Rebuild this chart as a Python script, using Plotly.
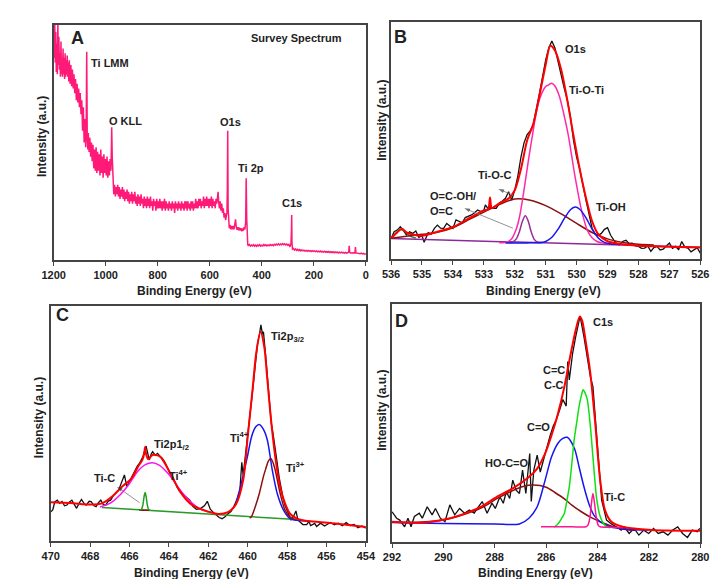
import plotly.graph_objects as go

# ---------------- Panel A: survey spectrum ----------------
survey_be = [1200,1198,1196,1194,1192,1190,1188,1186,1184,1182,1180,1178,1176,1174,1172,1170,1168,1166,1164,1162,
             1160,1158,1156,1154,1152,1150,1148,1146,1144,1142,1140,1137,1134,1131,1128,1125,1122,1119,1116,1113,
             1110,1107,1104,1101,1098,1095,1092,1089,1086,1083,1080,1077,1075,1073,1071,1069,1067,1064,1061,1058,
             1055,1052,1049,1046,1043,1040,1037,1034,1031,1028,1025,1022,1019,1016,1013,1010,1007,1004,1001,998,
             995,992,989,986,983,980,978,977,975,973,971,969,966,963,960,957,954,951,948,945,
             942,939,936,933,930,927,924,921,918,915,912,909,906,903,900,897,894,891,888,885,
             882,879,876,873,870,867,864,861,858,855,852,849,846,843,840,837,834,831,828,825,
             822,819,816,813,810,807,804,801,798,795,792,789,786,783,780,777,774,771,768,765,
             762,759,756,753,750,747,744,741,738,735,732,729,726,723,720,717,714,711,708,705,
             702,699,696,693,690,687,684,681,678,675,672,669,666,663,660,657,654,651,648,645,
             642,639,636,633,630,627,624,621,618,615,612,609,606,603,600,597,594,591,588,585,
             582,579,576,573,570,568,566,563,560,557,554,551,548,545,542,539,536,534,532.5,531,
             529.5,528,525,522,519,516,513,510,507,504,501,498,495,492,489,486,483,480,477,474,
             471,468,465,462,460,458,456,454,452,448,444,440,436,432,428,424,420,416,412,408,
             404,400,396,392,388,384,380,376,372,368,364,360,356,352,348,344,340,336,332,328,
             324,320,316,312,308,304,300,296,292,288,286,285,284,282,278,274,270,266,262,258,
             254,250,246,242,238,234,230,226,222,218,214,210,206,202,198,194,190,186,182,178,
             174,170,166,162,158,154,150,146,142,138,134,130,126,122,118,114,110,106,102,98,
             94,90,86,82,78,74,70,66,64,62,58,54,50,46,42,40,38,34,30,26,
             22,18,14,10,6,2,0]
survey_int = [96,86,103,84,97,80,92,79,101,83,95,81,88,78,93,79,86,78,90,79,
              86,77,88,78,85,79,87,78,84,76,85,75,83,74,81,73,79,71,77,68,
              75,67,73,65,71,62,68,55,65,50,60,48,57,88.6,52,47,54,46,52,44,
              50,42,49,39,47,38,48,37,46,38,45,36,47,37,44,35,45,37,43,36,
              44,35,42,36,43,38,48,56.5,44,35,31,28,32,27,31,28,32,27,31,26,
              30,27,31,26,30,25,29,26,30,25,29,24,28,25,29,24,28,25,29,24,
              27,23,28,24,27,23,28,24,26,22,27,23,26,22,27,23,26,22,27,23,
              25,21,26,23,25,21,26,22,25,22,26,22,25,21,25,22,26,21,25,22,
              24,21,25,22,24,21,25,22,24,20,25,22,24,21,25,22,24,21,25,22,
              24,21,25,22,25,21,25,22,24,21,25,22,25,21,24,22,26,22,25,22,
              26,23,26,22,25,23,27,22,26,23,27,23,26,22,26,23,27,22,26,23,
              25,22,26,24,27,29,25,22,25,21,24,20,22,18,20,17,19,20,30,55,
              22,15,13.5,15,13,14.5,13,14.5,13,15,17.3,14,12.8,14,12.6,13.8,12.5,13.5,12.2,13.4,
              12.5,14,13,16,34.8,18,8,6.5,6.2,6.6,5.9,6.4,6.0,6.5,5.9,6.3,5.8,6.4,6.0,6.5,
              5.9,6.3,6.0,6.6,6.1,6.5,6.0,6.4,6.1,6.6,6.2,6.5,6.1,6.7,6.3,6.8,6.4,6.9,6.4,6.8,
              6.5,7.0,6.5,6.9,6.4,6.8,6.3,6.6,5.6,6.8,12,19.1,7.5,4.6,4.9,4.2,4.7,4.1,4.5,4.0,
              4.4,3.9,4.3,3.9,4.2,3.8,4.1,3.7,4.1,3.8,4.0,3.6,4.0,3.7,3.9,3.6,3.9,3.5,3.8,3.5,
              3.8,3.4,3.7,3.4,3.7,3.3,3.6,3.3,3.6,3.2,3.5,3.2,3.5,3.1,3.4,3.1,3.4,3.0,3.3,3.0,
              3.3,3.0,3.2,2.9,3.2,2.9,3.2,3.3,6.0,3.2,3.0,3.1,2.9,3.1,3.0,5.5,3.0,2.9,2.8,3.0,
              2.7,2.9,2.6,2.8,2.5,2.6,2.4]

# ---------------- Panel B: O1s ----------------
o1s_be = [536.0,535.9,535.8,535.7,535.6,535.5,535.4,535.3,535.2,535.1,535.0,534.93,
          534.8,534.7,534.6,534.5,534.4,534.3,534.2,534.1,534.0,
          533.9,533.8,533.7,533.6,533.5,533.4,533.3,533.2,533.1,533.0,532.95,532.85,
          532.8,532.7,532.6,532.5,532.4,532.3,532.2,532.1,532.0,
          531.9,531.8,531.7,531.6,531.5,531.4,531.3,531.2,531.1,531.0,
          530.9,530.8,530.7,530.6,530.5,530.4,530.3,530.2,530.1,530.0,
          529.9,529.8,529.7,529.6,529.5,529.4,529.3,529.2,529.1,529.0,
          528.9,528.8,528.7,528.6,528.5,528.4,528.3,528.2,528.1,528.0,
          527.9,527.8,527.7,527.6,527.5,527.4,527.3,527.2,527.1,527.0,
          526.9,526.8,526.7,526.6,526.5,526.4,526.3,526.2,526.1,526.0]
o1s_raw = [8.5,11.5,12.2,13.6,12.0,10.1,11.5,10.8,11.8,9.1,9.8,7.1,
           11.1,10.5,12.9,14.3,13.0,12.9,15.0,14.0,12.9,
           16.5,15.8,15.3,17.5,17.9,18.6,19.5,20.7,20.0,20.5,22.8,21.0,
           22.1,21.4,21.4,23.5,24.5,25.6,28.4,24.9,29.1,
           35,43,49,52.5,54,57,63,70,77,84,
           89,92,89,83,78,72,67,60,50,43,
           38,31,25,19,13,10.5,10,10.8,12.5,13.2,
           10,8.1,6.3,6.0,7.5,7.9,6.5,6.7,5.5,5.3,
           4.5,4.6,5.5,3.2,4.8,5.3,3.8,4.2,5.5,6.7,
           4.5,5.3,4.0,7.4,5.0,4.6,3.0,3.9,4.8,2.5]
o1s_fit_be = [536.0,535.8,535.65,535.5,535.3,535.0,534.5,534.0,533.5,533.0,532.86,532.8,532.74,
              532.5,532.2,532.0,531.8,531.6,531.4,531.2,531.0,530.85,530.7,530.5,530.3,530.1,
              529.9,529.7,529.5,529.3,529.0,528.5,528.0,527.0,526.0]
o1s_fit = [8.8,11.2,12.8,11.2,10.3,9.8,11.5,13.5,17.0,20.5,21.0,26.0,21.5,
           23.5,25.5,29.0,38.0,50.0,57.0,69.0,82.0,90.0,88.0,80.0,67.0,52.0,
           38.0,26.0,16.0,10.5,7.5,6.2,5.6,5.2,4.8]
o1s_bg_be = [536.0, 526.0]
o1s_bg = [8.6, 5.0]
o1s_hump_be = [536.0,535.85,535.7,535.55,535.4,535.2]
o1s_hump = [8.8,10.8,12.4,11.6,9.8,8.9]
o1s_ococ_be = [536.0,535.5,535.0,534.5,534.0,533.5,533.0,532.5,532.0,531.5,531.0,530.5,530.0,529.5,529.0,528.5,528.0,527.5]
o1s_ococ = [8.8,9.6,10.4,11.3,13.2,16.5,19.8,23.0,25.3,24.8,22.5,19.0,15.0,11.2,8.5,7.0,6.2,5.9]
o1s_tioti_be = [532.5,532.27,532.1,531.96,531.85,531.75,531.65,531.54,531.43,531.33,
                531.23,531.13,531.0,530.9,530.8,530.7,530.55,530.42,530.28,530.17,
                530.07,529.97,529.87,529.76,529.66,529.5,529.34,529.15,529.0]
o1s_tioti = [6.9,7.0,8.5,12.3,17.5,25.0,33.5,43.2,52,60,
             66,69.8,72.8,73.5,74.2,73,68.4,61.5,53,44.5,
             36.2,29,22.2,16.5,12.3,9.0,7.4,6.7,6.5]
o1s_tioc_be = [532.2,532.05,531.95,531.85,531.75,531.66,531.57,531.47,531.37,531.27,531.1]
o1s_tioc = [7.0,7.3,8.5,11.5,16.0,18.2,16.2,11.5,8.3,7.2,7.0]
o1s_tioh_be = [532.3,531.6,531.2,531.0,530.8,530.6,530.4,530.2,530.05,529.9,529.7,529.5,529.3,529.1,528.9,528.6]
o1s_tioh = [6.8,6.8,6.9,7.4,9.2,12.6,17.0,20.8,21.9,21.0,17.5,12.6,8.9,7.0,6.4,6.1]

# ---------------- Panel C: Ti 2p ----------------
ti2p_be = [470.0,469.9,469.8,469.67,469.55,469.43,469.3,469.18,469.05,468.93,
           468.8,468.69,468.55,468.44,468.3,468.2,468.05,467.95,467.8,467.7,
           467.58,467.46,467.33,467.21,467.08,466.96,466.8,466.65,466.55,466.45,
           466.39,466.26,466.14,465.98,465.85,465.73,465.6,465.49,465.32,465.16,
           465.0,464.9,464.83,464.7,464.58,464.45,464.34,464.2,464.09,463.95,
           463.85,463.7,463.6,463.45,463.27,463.1,462.94,462.78,462.6,462.4,
           462.2,462.05,461.9,461.75,461.6,461.45,461.3,461.15,461.0,460.85,
           460.7,460.55,460.4,460.3,460.23,460.1,460.0,459.9,459.8,459.7,
           459.6,459.5,459.4,459.33,459.25,459.2,459.1,459.0,458.9,458.8,
           458.7,458.6,458.5,458.4,458.3,458.2,458.1,458.0,457.9,457.8,
           457.7,457.55,457.45,457.3,457.2,457.0,456.9,456.8,456.6,456.5,
           456.3,456.1,456.0,455.8,455.6,455.4,455.2,455.0,454.8,454.6,
           454.4,454.2,454.0]
ti2p_raw = [12.4,13.2,16.6,17.4,16.0,16.8,15.0,15.3,16.6,17.4,
            15.5,13.9,16.2,17.7,15.8,15.3,16.9,16.8,15.0,14.6,
            16.3,17.4,15.5,15.3,17.0,17.4,19.6,21.0,21.7,24.0,
            25.2,28.1,23.1,25.9,28.0,30.2,32.0,33.1,35.9,40.4,
            34.5,37.0,38.0,36.5,37.3,36.0,35.2,33.5,31.6,29.0,
            28.1,25.0,23.1,21.0,19.6,18.5,17.4,14.6,13.5,13.8,
            15.0,16.9,13.5,12.2,11.0,10.0,9.5,10.3,11.6,12.5,
            14.8,17.5,21.0,33.5,28.0,37.0,45.0,52.0,60.0,68.0,
            77.0,84.0,88.0,92.0,88.0,89.0,80.0,70.0,62.0,50.0,
            45.0,38.0,33.0,27.0,22.0,18.0,15.0,13.0,11.0,9.0,
            10.0,12.8,9.0,8.0,7.0,7.0,8.3,6.6,7.5,6.2,
            7.6,6.4,7.0,7.9,6.9,7.6,6.5,7.8,6.6,7.0,
            5.6,6.4,5.5]
ti2p_fit_be = [470.0,469.0,468.0,467.4,466.9,466.4,465.9,465.57,465.35,465.26,465.21,465.16,465.05,
               464.83,464.45,463.93,463.43,462.94,462.5,462.0,461.5,461.0,460.6,460.23,460.0,
               459.74,459.57,459.35,459.16,459.0,458.83,458.6,458.35,458.1,457.85,457.5,457.2,455.55,454.0]
ti2p_fit = [16.5,16.2,15.5,16.0,18.8,23.0,26.7,31.6,34.5,37.0,40.0,37.0,34.8,
            36.6,35.9,28.8,21.0,16.1,14.0,12.5,11.5,12.3,15.5,25.9,44.3,
            65.6,79.8,89.0,82.7,68.5,52.8,35.8,23.0,15.9,11.6,9.5,8.8,7.4,6.0]
ti2p_bg_be = [467.4, 457.3]
ti2p_bg = [14.3, 9.0]
ti2p_half_be = [467.5,467.0,466.5,466.0,465.6,465.2,464.85,464.5,464.0,463.5,463.0,462.5,462.0]
ti2p_half = [14.5,16.0,19.5,24.5,29.5,32.5,33.3,32.3,28.3,22.5,17.5,14.0,12.3]
ti2p_tic_be = [465.5,465.4,465.32,465.26,465.21,465.16,465.1,465.03,464.95]
ti2p_tic = [13.2,13.4,15.5,19.0,20.6,19.0,15.5,13.4,13.2]
ti2p_ticbase_be = [465.5, 465.0]
ti2p_ticbase = [13.1, 13.1]
ti2p_ti4_be = [460.6,460.4,460.2,460.0,459.8,459.6,459.41,459.2,459.0,458.75,458.5,458.18,457.85,457.5,457.2,456.8]
ti2p_ti4 = [16.0,22.0,29.0,36.5,44.5,48.5,49.6,47.5,42.9,30.1,20.2,13.1,9.5,8.8,8.6,8.3]
ti2p_ti3_be = [459.9,459.82,459.6,459.41,459.2,459.08,458.95,458.83,458.72,458.6,458.35,458.1,457.85,457.6]
ti2p_ti3 = [9.8,10.2,15.0,20.2,27.5,30.8,34.0,35.1,33.5,30.1,20.2,13.1,10.2,9.1]

# ---------------- Panel D: C1s ----------------
c1s_be = [292.0,291.82,291.7,291.51,291.38,291.26,291.13,290.94,290.82,290.63,
          290.44,290.31,290.12,289.94,289.75,289.56,289.37,289.18,288.99,288.8,
          288.68,288.49,288.3,288.11,287.98,287.8,287.67,287.55,287.42,287.3,
          287.17,287.04,286.92,286.79,286.64,286.58,286.48,286.35,286.23,286.1,
          285.98,285.85,285.72,285.6,285.47,285.35,285.22,285.16,285.1,284.97,
          284.85,284.68,284.53,284.4,284.28,284.18,284.09,283.96,283.84,283.65,
          283.46,283.27,283.08,282.96,282.77,282.58,282.39,282.2,282.01,281.82,
          281.64,281.45,281.26,281.07,280.88,280.69,280.5,280.31,280.12,280.02]
c1s_raw = [12.7,10.0,9.2,6.4,10.0,6.4,10.7,12.1,10.0,14.8,
           11.4,14.1,10.0,8.5,15.6,11.4,14.1,12.1,13.4,12.1,
           14.1,17.0,12.1,16.3,14.1,19.0,16.3,21.1,18.3,26.0,
           21.8,20.4,30.2,20.4,37.2,17.0,30.2,36.5,29.4,34.8,
           40.4,44.6,48.8,51.5,55.7,59.9,57.1,75.8,68.1,79.3,
           86.3,94.9,86.3,77.9,69.5,65.3,52.7,34.5,17.6,9.2,
           7.6,6.4,5.0,6.4,3.6,5.7,2.9,5.0,3.6,5.7,
           3.6,4.3,2.9,5.0,6.4,3.6,1.9,5.0,4.3,5.7]
c1s_fit_be = [292.0,290.82,290.06,289.31,288.55,287.92,287.3,286.67,286.35,286.04,285.79,285.54,285.29,
              285.04,284.85,284.69,284.6,284.47,284.28,284.09,283.9,283.71,283.46,283.02,281.89,280.0]
c1s_fit = [8.5,8.1,9.2,11.4,14.8,19.0,22.5,27.3,30.8,37.2,44.9,54.0,65.3,
           79.3,89.1,94.7,93.0,84.9,70.9,49.9,26.2,13.4,8.5,6.4,5.0,4.7]
c1s_cooh_be = [292.0,291.0,290.0,289.3,288.5,287.9,287.3,286.9,286.5,286.0,285.66,285.3,285.0,284.6,284.2,283.9,283.4,282.9,282.5]
c1s_cooh = [8.3,8.3,9.2,11.2,14.5,18.3,21.6,23.3,23.9,23.0,20.8,18.2,15.5,12.5,10.0,8.5,6.5,5.3,4.9]
c1s_co_be = [292.0,290.0,288.0,287.04,286.67,286.35,286.04,285.79,285.54,285.35,285.18,284.9,284.72,284.53,284.34,284.15,283.9,283.52,283.14,282.77,282.0]
c1s_co = [8.2,7.8,7.6,7.6,10.0,14.8,26.0,35.8,41.5,43.5,44.0,39.3,31.6,23.2,16.2,11.4,8.5,6.4,5.7,5.3,5.0]
c1s_cc_be = [285.7,285.55,285.42,285.29,285.2,285.1,285.0,284.91,284.8,284.72,284.63,284.56,284.48,284.4,284.28,284.15,284.03,283.9,283.78,283.65,283.5]
c1s_cc = [6.3,7.5,9.5,12.1,17.0,23.2,33.0,42.9,51.0,56.9,61.5,64.0,62.5,59.9,48.7,31.9,17.8,10.8,8.0,6.5,6.0]
c1s_tic_be = [286.2,285.0,284.45,284.38,284.3,284.24,284.18,284.12,284.05,283.97,283.9,283.5,283.0]
c1s_tic = [6.4,6.4,6.4,7.0,10.0,16.0,20.4,16.5,10.5,7.0,6.4,6.2,6.0]

series_pairs = [(survey_be, survey_int), (o1s_be, o1s_raw), (o1s_fit_be, o1s_fit), (o1s_ococ_be, o1s_ococ),
                (o1s_tioti_be, o1s_tioti), (o1s_tioc_be, o1s_tioc), (o1s_tioh_be, o1s_tioh), (o1s_hump_be, o1s_hump),
                (ti2p_be, ti2p_raw), (ti2p_fit_be, ti2p_fit), (ti2p_half_be, ti2p_half), (ti2p_tic_be, ti2p_tic),
                (ti2p_ti4_be, ti2p_ti4), (ti2p_ti3_be, ti2p_ti3), (c1s_be, c1s_raw), (c1s_fit_be, c1s_fit),
                (c1s_cooh_be, c1s_cooh), (c1s_co_be, c1s_co), (c1s_cc_be, c1s_cc), (c1s_tic_be, c1s_tic)]
for xs, ys in series_pairs:
    assert len(xs) == len(ys), (len(xs), len(ys), xs[0])

W, H = 720, 579
FONT = "Liberation Sans, Arial, sans-serif"
INK = "#222222"
FRAME = "#444444"

fig = go.Figure()


def line(xs, ys, ax, color, width=1.5, smooth=False):
    fig.add_trace(go.Scatter(
        x=xs, y=ys, mode="lines", xaxis="x" + ax, yaxis="y" + ax,
        line=dict(color=color, width=width, shape="spline" if smooth else "linear",
                  smoothing=0.8 if smooth else None),
        hoverinfo="skip", showlegend=False))


def pointer(ax, x0, y0, x1, y1):
    # thin leader from a peak (x0, y0) to its label, arrowhead at the label end
    fig.add_trace(go.Scatter(
        x=[x0, x1], y=[y0, y1], mode="lines+markers", xaxis="x" + ax, yaxis="y" + ax,
        line=dict(color="#777777", width=0.8),
        marker=dict(symbol="arrow", size=[0, 6], angleref="previous", color="#333333",
                    line=dict(width=0)),
        hoverinfo="skip", showlegend=False))


# Panel A
line(survey_be, survey_int, "", "#FF1A78", 1.5)

# Panel B
line(o1s_be, o1s_raw, "2", "#111111", 1.3)
line(o1s_bg_be, o1s_bg, "2", "#8B2A9B", 1.5)
line(o1s_hump_be, o1s_hump, "2", "#2E7D32", 1.5, True)
line(o1s_ococ_be, o1s_ococ, "2", "#8B1010", 1.5, True)
line(o1s_tioti_be, o1s_tioti, "2", "#FF2AA8", 1.5, True)
line(o1s_tioc_be, o1s_tioc, "2", "#9A2F9A", 1.5, True)
line(o1s_tioh_be, o1s_tioh, "2", "#1515F0", 1.5, True)
line(o1s_fit_be, o1s_fit, "2", "#FF0000", 2.0, True)
pointer("2", 532.06, 27.0, 532.53, 29.5)
pointer("2", 532.06, 13.0, 533.63, 21.4)

# Panel C
line(ti2p_be, ti2p_raw, "3", "#111111", 1.3)
line(ti2p_bg_be, ti2p_bg, "3", "#2A9A2A", 1.5)
line(ti2p_half_be, ti2p_half, "3", "#FF10F0", 1.5, True)
line(ti2p_ticbase_be, ti2p_ticbase, "3", "#8B1010", 1.5)
line(ti2p_tic_be, ti2p_tic, "3", "#1FA01F", 1.5, True)
line(ti2p_ti4_be, ti2p_ti4, "3", "#1515F0", 1.5, True)
line(ti2p_ti3_be, ti2p_ti3, "3", "#8B1010", 1.5, True)
line(ti2p_fit_be, ti2p_fit, "3", "#FF0000", 2.0, True)
pointer("3", 465.49, 16.3, 466.64, 23.1)

# Panel D
line(c1s_be, c1s_raw, "4", "#111111", 1.3)
line(c1s_cooh_be, c1s_cooh, "4", "#8B1010", 1.5, True)
line(c1s_co_be, c1s_co, "4", "#1515F0", 1.5, True)
line(c1s_cc_be, c1s_cc, "4", "#10E010", 1.5, True)
line(c1s_tic_be, c1s_tic, "4", "#FF1493", 1.5, True)
line(c1s_fit_be, c1s_fit, "4", "#FF0000", 2.0, True)


def px_dom(a, b, total, flip=False):
    if flip:
        return [1 - b / total, 1 - a / total]
    return [a / total, b / total]


panels = {
    "": dict(x=(43, 365), y=(25, 260), rng=[1200, 0], ticks=[1200, 1000, 800, 600, 400, 200, 0]),
    "2": dict(x=(391, 710), y=(22, 259), rng=[536, 526], ticks=list(range(536, 525, -1))),
    "3": dict(x=(40, 365), y=(306, 541), rng=[470, 454], ticks=list(range(470, 453, -2))),
    "4": dict(x=(392, 710), y=(304, 542), rng=[292, 280], ticks=list(range(292, 279, -2))),
}

tickfont = dict(family=FONT, size=11, color=INK, weight="bold")
for key, p in panels.items():
    fig.update_layout(**{
        "xaxis" + key: dict(domain=px_dom(*p["x"], W), range=p["rng"], anchor="y" + key,
                            tickmode="array", tickvals=p["ticks"], ticktext=[str(t) for t in p["ticks"]],
                            ticks="outside", ticklen=4, tickwidth=1, tickcolor=FRAME, tickfont=tickfont,
                            showline=True, mirror=True, linecolor=FRAME, linewidth=1.5,
                            showgrid=False, zeroline=False),
        "yaxis" + key: dict(domain=px_dom(*p["y"], H, flip=True), range=[0, 100], anchor="x" + key,
                            showticklabels=False, ticks="", showline=True, mirror=True,
                            linecolor=FRAME, linewidth=1.5, showgrid=False, zeroline=False),
    })

ann = []


def label(ax, x, y, text, size=11, xanchor="center"):
    ann.append(dict(xref="x" + ax, yref="y" + ax, x=x, y=y, text=text, showarrow=False,
                    xanchor=xanchor, yanchor="middle",
                    font=dict(family=FONT, size=size, color=INK, weight="bold")))


def paper_text(px, py, text, angle=0, size=12):
    ann.append(dict(xref="paper", yref="paper", x=px / W, y=1 - py / H, text=text, showarrow=False,
                    textangle=angle, xanchor="center", yanchor="middle",
                    font=dict(family=FONT, size=size, color=INK, weight="bold")))


# Panel A labels
label("", 1110, 94.5, "A", 18)
label("", 267, 94.5, "Survey Spectrum")
label("", 985, 84, "Ti LMM")
label("", 925, 59.3, "O KLL")
label("", 521, 58.6, "O1s")
label("", 441, 39.3, "Ti 2p")
label("", 283, 24.1, "C1s")

# Panel B labels
label("2", 535.69, 93.8, "B", 18)
label("2", 530.05, 88.5, "O1s")
label("2", 529.68, 71.3, "Ti-O-Ti")
label("2", 532.66, 35.4, "Ti-O-C")
label("2", 534.8, 26.6, "O=C-OH/", xanchor="left")
label("2", 534.8, 20.4, "O=C", xanchor="left")
label("2", 528.89, 22.1, "Ti-OH")

# Panel C labels
label("3", 469.42, 96.2, "C", 18)
label("3", 458.92, 86.9, "Ti2p<sub>3/2</sub>", xanchor="left")
label("3", 460.42, 44.4, "Ti<sup>4+</sup>")
label("3", 458.18, 31.6, "Ti<sup>3+</sup>", xanchor="left")
label("3", 464.88, 40.9, "Ti2p1<sub>/2</sub>", xanchor="left")
label("3", 464.09, 28.1, "Ti<sup>4+</sup>", xanchor="left")
label("3", 467.29, 26.7, "Ti-C")

# Panel D labels
label("4", 291.63, 93.0, "D", 18)
label("4", 283.8, 92.3, "C1s")
label("4", 285.69, 72.3, "C=C")
label("4", 285.69, 66.0, "C-C")
label("4", 286.31, 48.4, "C=O")
label("4", 287.52, 33.1, "HO-C=O")
label("4", 283.35, 19.0, "Ti-C")

# Axis titles
for (xc, yc) in [(188, 291), (548, 291), (185, 573), (540, 573)]:
    paper_text(xc, yc, "Binding Energy (eV)")
for (xc, yc) in [(31, 137), (381.5, 120), (28, 418), (381.5, 410)]:
    paper_text(xc, yc, "Intensity (a.u.)", angle=-90)

fig.update_layout(width=W, height=H, margin=dict(l=0, r=0, t=0, b=0),
                  plot_bgcolor="white", paper_bgcolor="white", showlegend=False,
                  annotations=ann)

fig.write_html("out.html")
